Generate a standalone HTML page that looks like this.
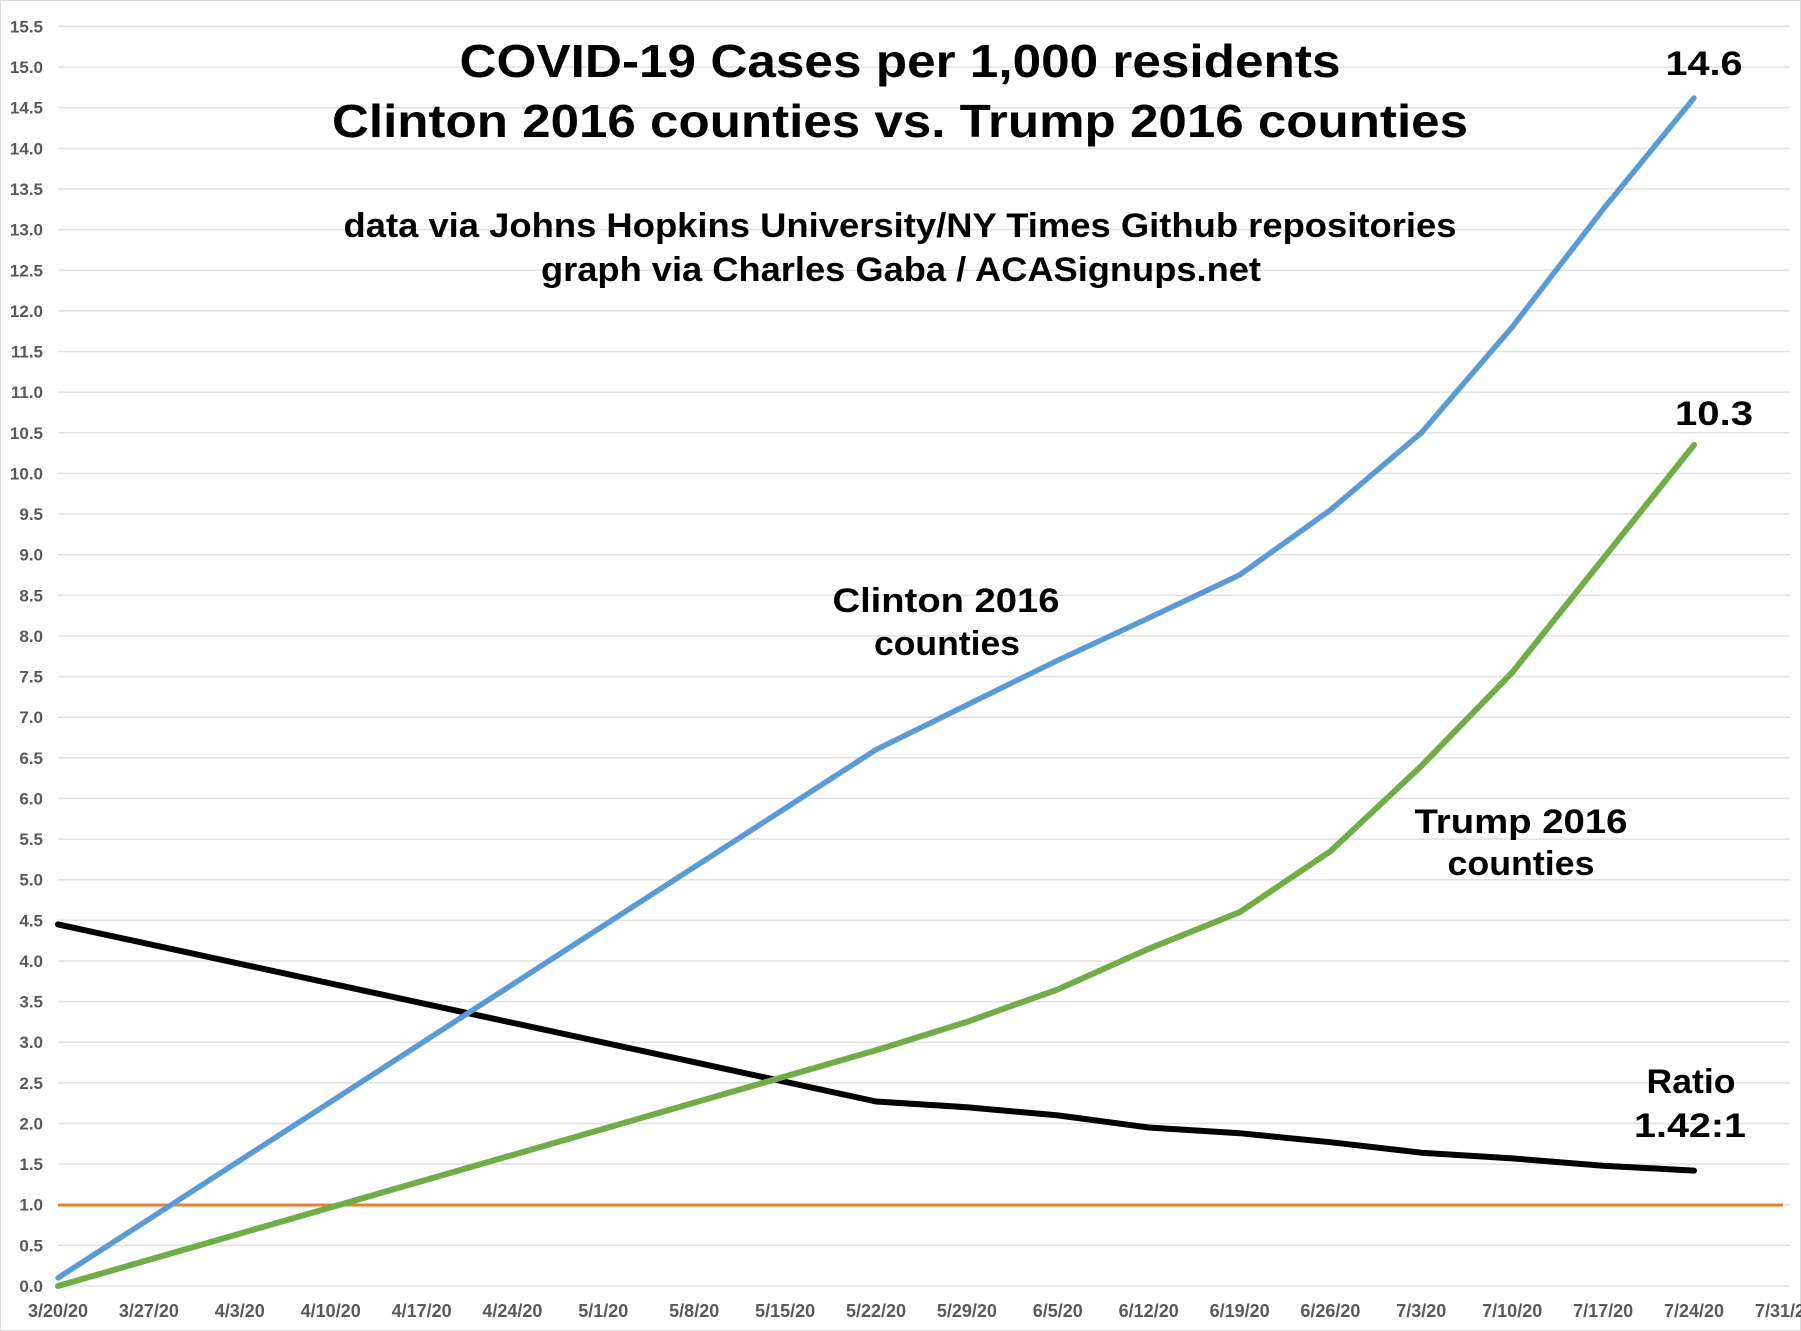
<!DOCTYPE html>
<html><head><meta charset="utf-8"><style>html,body{margin:0;padding:0;background:#fff}svg{display:block}</style></head><body>
<svg width="1801" height="1331" xmlns="http://www.w3.org/2000/svg" font-family="Liberation Sans, sans-serif" font-weight="bold">
<rect x="0" y="0" width="1801" height="1331" fill="#fff"/>
<rect x="0.5" y="0.5" width="1800" height="1330" fill="none" stroke="#d9d9d9"/>
<g stroke="#e0e0e0" stroke-width="1.5">
<line x1="58" x2="1790" y1="1286" y2="1286"/><line x1="58" x2="1790" y1="1245.4" y2="1245.4"/><line x1="58" x2="1790" y1="1204.7" y2="1204.7"/><line x1="58" x2="1790" y1="1164.1" y2="1164.1"/><line x1="58" x2="1790" y1="1123.5" y2="1123.5"/><line x1="58" x2="1790" y1="1082.9" y2="1082.9"/><line x1="58" x2="1790" y1="1042.2" y2="1042.2"/><line x1="58" x2="1790" y1="1001.6" y2="1001.6"/><line x1="58" x2="1790" y1="961" y2="961"/><line x1="58" x2="1790" y1="920.3" y2="920.3"/><line x1="58" x2="1790" y1="879.7" y2="879.7"/><line x1="58" x2="1790" y1="839.1" y2="839.1"/><line x1="58" x2="1790" y1="798.4" y2="798.4"/><line x1="58" x2="1790" y1="757.8" y2="757.8"/><line x1="58" x2="1790" y1="717.2" y2="717.2"/><line x1="58" x2="1790" y1="676.6" y2="676.6"/><line x1="58" x2="1790" y1="635.9" y2="635.9"/><line x1="58" x2="1790" y1="595.3" y2="595.3"/><line x1="58" x2="1790" y1="554.7" y2="554.7"/><line x1="58" x2="1790" y1="514" y2="514"/><line x1="58" x2="1790" y1="473.4" y2="473.4"/><line x1="58" x2="1790" y1="432.8" y2="432.8"/><line x1="58" x2="1790" y1="392.1" y2="392.1"/><line x1="58" x2="1790" y1="351.5" y2="351.5"/><line x1="58" x2="1790" y1="310.9" y2="310.9"/><line x1="58" x2="1790" y1="270.3" y2="270.3"/><line x1="58" x2="1790" y1="229.6" y2="229.6"/><line x1="58" x2="1790" y1="189" y2="189"/><line x1="58" x2="1790" y1="148.4" y2="148.4"/><line x1="58" x2="1790" y1="107.7" y2="107.7"/><line x1="58" x2="1790" y1="67.1" y2="67.1"/><line x1="58" x2="1790" y1="26.5" y2="26.5"/>
</g>
<g fill="#595959" font-size="17" text-anchor="end">
<text x="43" y="1292">0.0</text><text x="43" y="1251.4">0.5</text><text x="43" y="1210.7">1.0</text><text x="43" y="1170.1">1.5</text><text x="43" y="1129.5">2.0</text><text x="43" y="1088.9">2.5</text><text x="43" y="1048.2">3.0</text><text x="43" y="1007.6">3.5</text><text x="43" y="967">4.0</text><text x="43" y="926.3">4.5</text><text x="43" y="885.7">5.0</text><text x="43" y="845.1">5.5</text><text x="43" y="804.4">6.0</text><text x="43" y="763.8">6.5</text><text x="43" y="723.2">7.0</text><text x="43" y="682.6">7.5</text><text x="43" y="641.9">8.0</text><text x="43" y="601.3">8.5</text><text x="43" y="560.7">9.0</text><text x="43" y="520">9.5</text><text x="43" y="479.4">10.0</text><text x="43" y="438.8">10.5</text><text x="43" y="398.1">11.0</text><text x="43" y="357.5">11.5</text><text x="43" y="316.9">12.0</text><text x="43" y="276.3">12.5</text><text x="43" y="235.6">13.0</text><text x="43" y="195">13.5</text><text x="43" y="154.4">14.0</text><text x="43" y="113.7">14.5</text><text x="43" y="73.1">15.0</text><text x="43" y="32.5">15.5</text>
</g>
<g fill="#595959" font-size="18" text-anchor="middle">
<text x="58" y="1317">3/20/20</text><text x="148.9" y="1317">3/27/20</text><text x="239.8" y="1317">4/3/20</text><text x="330.7" y="1317">4/10/20</text><text x="421.6" y="1317">4/17/20</text><text x="512.4" y="1317">4/24/20</text><text x="603.3" y="1317">5/1/20</text><text x="694.2" y="1317">5/8/20</text><text x="785.1" y="1317">5/15/20</text><text x="876" y="1317">5/22/20</text><text x="966.9" y="1317">5/29/20</text><text x="1057.8" y="1317">6/5/20</text><text x="1148.7" y="1317">6/12/20</text><text x="1239.6" y="1317">6/19/20</text><text x="1330.4" y="1317">6/26/20</text><text x="1421.3" y="1317">7/3/20</text><text x="1512.2" y="1317">7/10/20</text><text x="1603.1" y="1317">7/17/20</text><text x="1694" y="1317">7/24/20</text><text x="1785" y="1317">7/31/20</text>
</g>
<line x1="58" x2="1783" y1="1205" y2="1205" stroke="#ed7d31" stroke-width="3"/>
<polyline fill="none" stroke="#000" stroke-width="6" stroke-linecap="round" stroke-linejoin="round" points="58,924.4 876,1101.5 966.9,1107.2 1057.8,1115.4 1148.7,1127.5 1239.6,1133.2 1330.4,1142.2 1421.3,1152.7 1512.2,1158.4 1603.1,1165.7 1694,1170.6"/>
<polyline fill="none" stroke="#70ad47" stroke-width="6" stroke-linecap="round" stroke-linejoin="round" points="58,1286 876,1050.3 966.9,1021.9 1057.8,989.4 1148.7,948.8 1239.6,912.2 1330.4,851.3 1421.3,766 1512.2,672.5 1603.1,558.7 1694,445"/>
<polyline fill="none" stroke="#5b9bd5" stroke-width="5.5" stroke-linecap="round" stroke-linejoin="round" points="58,1277.9 876,749.7 966.9,705 1057.8,660.3 1148.7,618 1239.6,575 1330.4,510 1421.3,432.8 1512.2,327.1 1603.1,209.3 1694,98"/>
<g fill="#000" text-anchor="middle">
<text x="900" y="77" font-size="46" textLength="881" lengthAdjust="spacingAndGlyphs">COVID-19 Cases per 1,000 residents</text>
<text x="900" y="137" font-size="46" textLength="1136" lengthAdjust="spacingAndGlyphs">Clinton 2016 counties vs. Trump 2016 counties</text>
<text x="900" y="237" font-size="34" textLength="1113" lengthAdjust="spacingAndGlyphs">data via Johns Hopkins University/NY Times Github repositories</text>
<text x="901" y="281" font-size="34" textLength="720" lengthAdjust="spacingAndGlyphs">graph via Charles Gaba / ACASignups.net</text>
<text x="1704" y="75" font-size="34" textLength="77" lengthAdjust="spacingAndGlyphs">14.6</text>
<text x="1714" y="425" font-size="34" textLength="78" lengthAdjust="spacingAndGlyphs">10.3</text>
<text x="946" y="612" font-size="34" textLength="227" lengthAdjust="spacingAndGlyphs">Clinton 2016</text>
<text x="947" y="655" font-size="34" textLength="146" lengthAdjust="spacingAndGlyphs">counties</text>
<text x="1521" y="833" font-size="34" textLength="213" lengthAdjust="spacingAndGlyphs">Trump 2016</text>
<text x="1521" y="875" font-size="34" textLength="147" lengthAdjust="spacingAndGlyphs">counties</text>
<text x="1691" y="1093" font-size="34" textLength="89" lengthAdjust="spacingAndGlyphs">Ratio</text>
<text x="1690" y="1137" font-size="34" textLength="112" lengthAdjust="spacingAndGlyphs">1.42:1</text>
</g>
</svg>
</body></html>
